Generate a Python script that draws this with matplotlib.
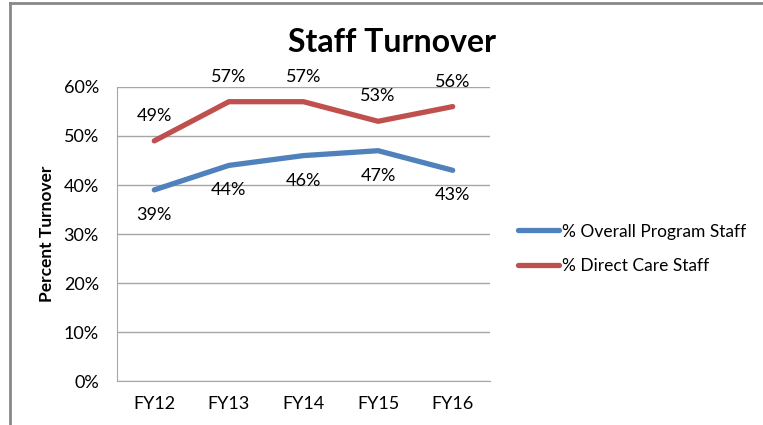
import matplotlib.pyplot as plt
from matplotlib.lines import Line2D

# данные
years = ['FY12', 'FY13', 'FY14', 'FY15', 'FY16']
overall = [39, 44, 46, 47, 43]
direct = [49, 57, 57, 53, 56]
yticks = [0, 10, 20, 30, 40, 50, 60]

plt.rcParams['font.family'] = ['Lato', 'DejaVu Sans']

fig = plt.figure(figsize=(7.63, 4.25), dpi=100)
ax = fig.add_axes([0.1533, 0.1035, 0.4889, 0.6918])

x = list(range(len(years)))
ax.plot(x, overall, color='#4F81BD', lw=3.8, solid_capstyle='round',
        label='% Overall Program Staff')
ax.plot(x, direct, color='#C0504D', lw=3.8, solid_capstyle='round',
        label='% Direct Care Staff')

# подписи значений
for i in x:
    ax.annotate(f'{overall[i]}%', (i, overall[i]), xytext=(0, -18),
                textcoords='offset points', ha='center', va='center', fontsize=13)
    ax.annotate(f'{direct[i]}%', (i, direct[i]), xytext=(0, 18),
                textcoords='offset points', ha='center', va='center', fontsize=13)

ax.set_xlim(-0.5, 4.5)
ax.set_ylim(0, 60)
ax.set_yticks(yticks)
ax.set_yticklabels([f'{v}%' for v in yticks], fontsize=13)
ax.set_xticks(x)
ax.set_xticklabels(years, fontsize=13)
ax.tick_params(length=0, pad=13)
ax.tick_params(axis='x', pad=11)
ax.grid(axis='y', color='#A6A6A6', lw=1)
ax.set_axisbelow(True)
for s in ['top', 'right']:
    ax.spines[s].set_visible(False)
for s in ['left', 'bottom']:
    ax.spines[s].set_color('#A6A6A6')
ax.set_ylabel('Percent Turnover', fontsize=12.5, fontweight='bold', labelpad=6)

fig.text(0.514, 0.90, 'Staff Turnover', ha='center', va='center',
         fontsize=23, fontweight='bold')

fig.legend(loc='center left', bbox_to_anchor=(0.658, 0.415), frameon=False,
           fontsize=12.5, handlelength=2.4, handletextpad=0.15, labelspacing=1.05)

# рамка (обрезанная) слева и сверху
fig.add_artist(Line2D([0.0125, 0.0125], [0, 0.992], color='#888888', lw=2))
fig.add_artist(Line2D([0.0125, 1.0], [0.992, 0.992], color='#888888', lw=2))

fig.savefig('out.png', dpi=100)
